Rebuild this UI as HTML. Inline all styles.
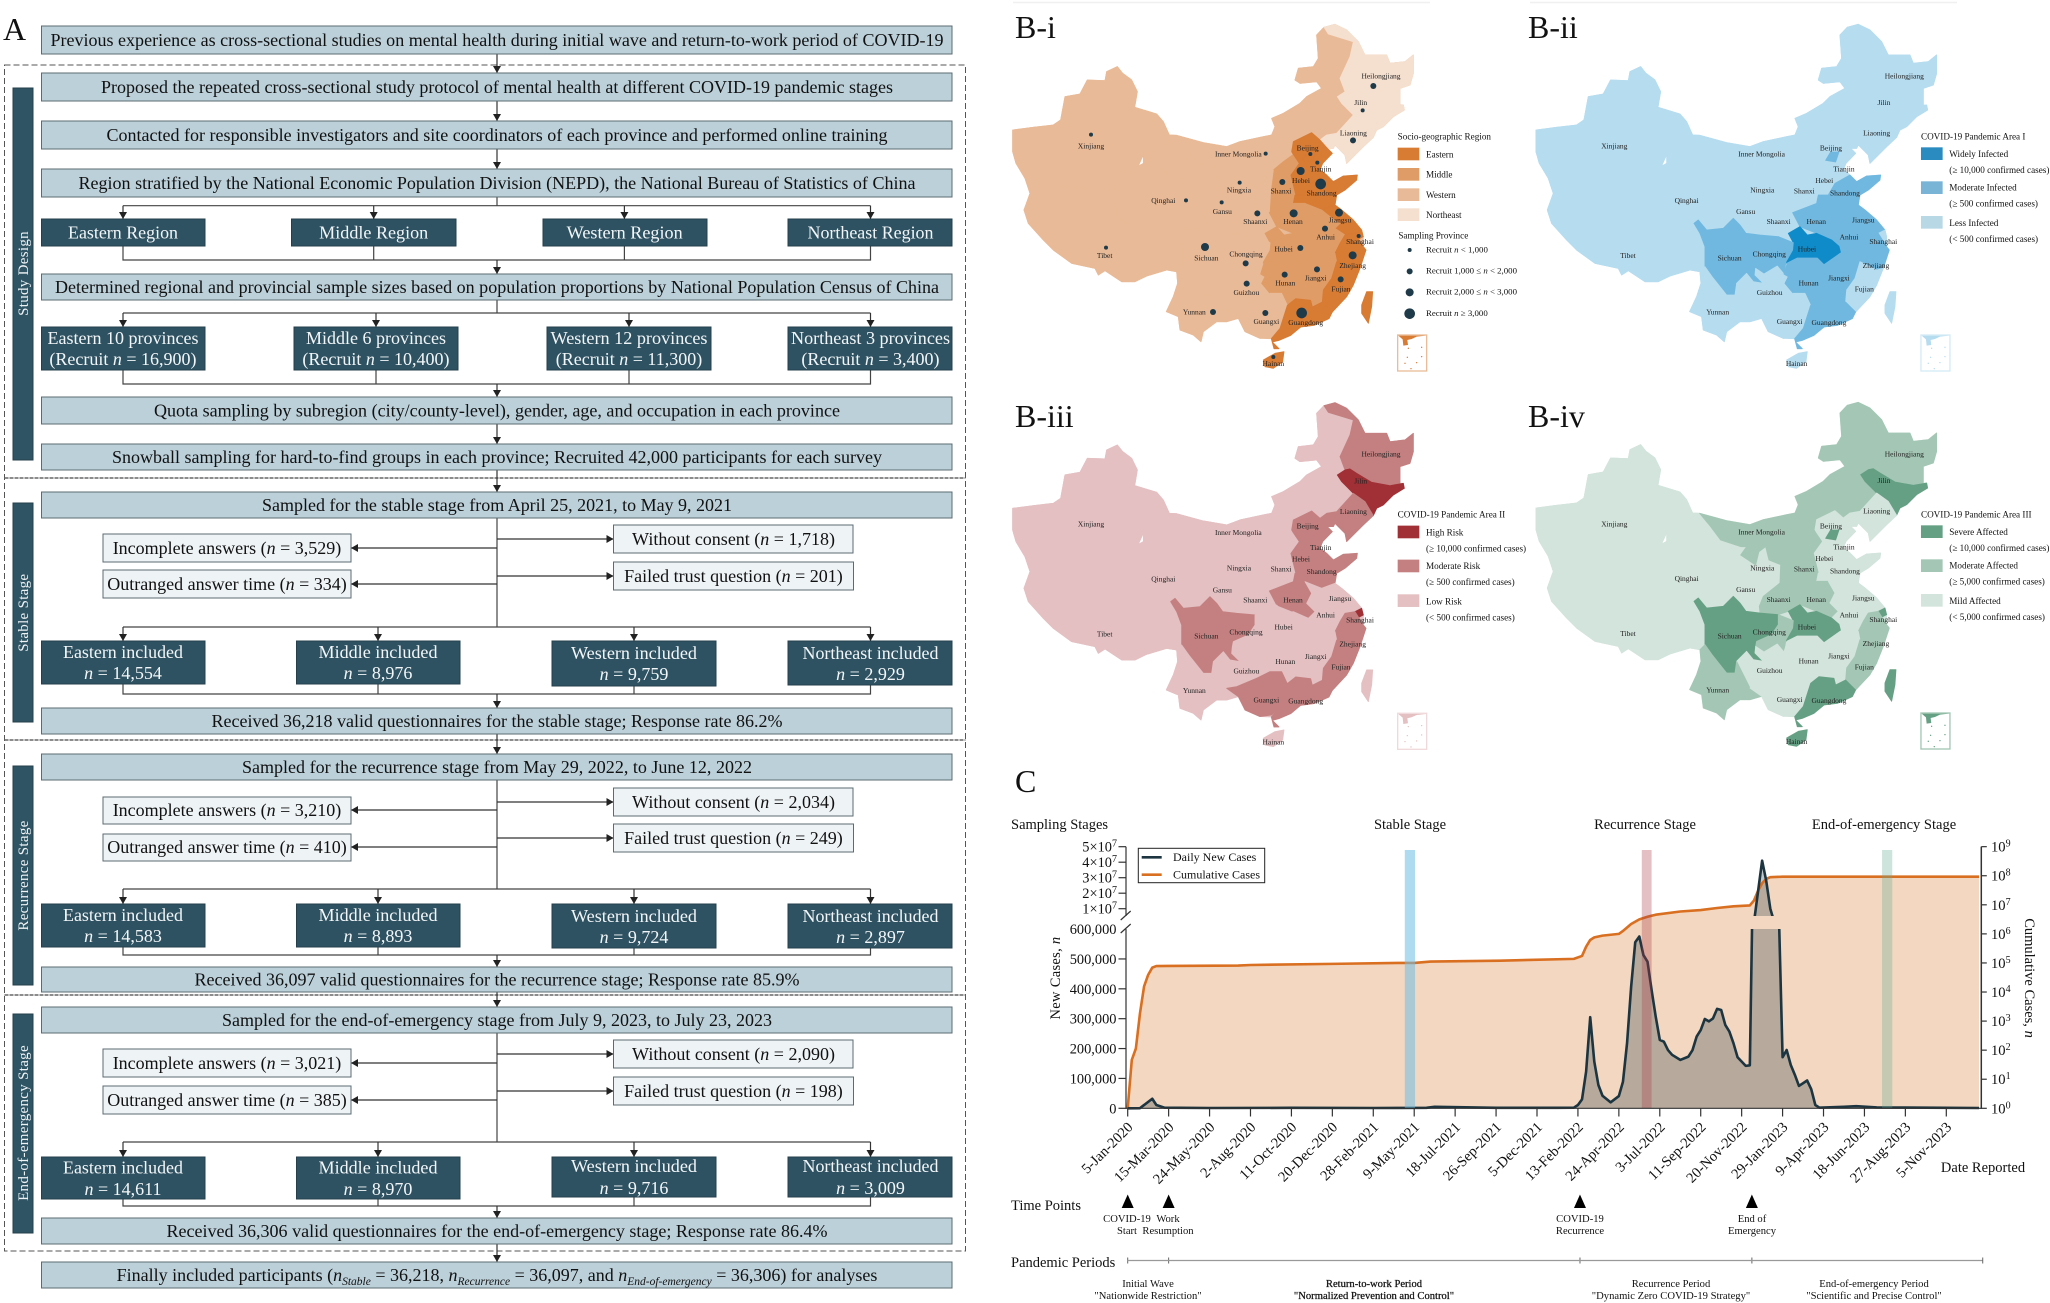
<!DOCTYPE html>
<html lang="en">
<head>
<meta charset="utf-8">
<title>Study flow, pandemic area maps and case timeline</title>
<style>
html,body{margin:0;padding:0;background:#fff;width:2050px;height:1303px;overflow:hidden}
svg{display:block}
text{font-family:"Liberation Serif","Noto Serif CJK SC",serif}
.lb{fill:#bcd0da;stroke:#5c6b73;stroke-width:1}
.db{fill:#2f5262;stroke:#24404d;stroke-width:1}
.eb{fill:#eef3f6;stroke:#5c6b73;stroke-width:1}
.sb{fill:#2f5464;stroke:#24404d;stroke-width:1}
.t{font-size:18px;fill:#111;text-anchor:middle}
.w{font-size:18px;fill:#f2f6f8;text-anchor:middle}
.v{font-size:15px;fill:#eef3f6;text-anchor:middle;letter-spacing:.3px}
.c{fill:none;stroke:#444;stroke-width:1.2}
.a{fill:none;stroke:#333;stroke-width:1.2;marker-end:url(#ah)}
.p{font-size:32px;fill:#111}
.lab{font-size:14.5px;fill:#111}
.sm{font-size:10.6px;fill:#111;text-anchor:middle}
.smb{stroke:#111;stroke-width:.25}
</style>
</head>
<body>
<svg id="fig" xmlns="http://www.w3.org/2000/svg" width="2050" height="1303" viewBox="0 0 2050 1303">
<defs>
<marker id="ah" markerWidth="7" markerHeight="8" refX="7" refY="4" orient="auto" markerUnits="userSpaceOnUse"><path d="M0,0L7,4L0,8z" fill="#222"/></marker>
<clipPath id="clip-lower"><rect x="1120" y="929" width="870" height="182"/></clipPath>
<clipPath id="clip-upper"><rect x="1120" y="840" width="870" height="76"/></clipPath>
</defs>

<path d="M1013,2.5H1430M1530,2.5H1957" stroke="#f0f0f0" stroke-width="1.5" fill="none"/>

<!-- PANEL A -->
<g id="panel-a">
<text class="p" x="3" y="40">A</text>

<rect x="4.5" y="65" width="961" height="1186" fill="none" stroke="#555" stroke-width="1" stroke-dasharray="6 3"/>
<path d="M4.5,478H965.5M4.5,740H965.5M4.5,995H965.5" fill="none" stroke="#666" stroke-width="1.5" stroke-dasharray="4 1"/>

<g>
<path class="a" d="M497,54V73"/><path class="a" d="M497,101V121"/><path class="a" d="M497,149V169"/>
<path class="c" d="M497,197V205.7M123,205.7H870.5"/>
<path class="a" d="M123,205.7V219"/><path class="a" d="M373.7,205.7V219"/><path class="a" d="M624.4,205.7V219"/><path class="a" d="M870.5,205.7V219"/>
<path class="c" d="M123,246V260H870.5V246M373.7,246V260M624.4,246V260"/><path class="a" d="M497,260V274"/>
<path class="c" d="M497,300V313M123,313H870.5"/>
<path class="a" d="M123,313V327"/><path class="a" d="M376,313V327"/><path class="a" d="M629,313V327"/><path class="a" d="M870.5,313V327"/>
<path class="c" d="M123,370V384H870.5V370M376,370V384M629,370V384"/><path class="a" d="M497,384V397"/>
<path class="a" d="M497,424V444"/><path class="a" d="M497,470V492"/>
<path class="c" d="M497,518V627M123,627H870.5"/>
<path class="a" d="M497,539H613.5"/><path class="a" d="M497,576H613.5"/><path class="a" d="M497,548H351"/><path class="a" d="M497,584H351"/>
<path class="a" d="M123,627V641"/><path class="a" d="M378,627V641"/><path class="a" d="M634,627V641"/><path class="a" d="M870.5,627V641"/>
<path class="c" d="M123,684V694H870.5V685M378,684V694M634,686V694"/><path class="a" d="M497,694V708"/>
<path class="a" d="M497,734V754"/>
<path class="c" d="M497,780V889M123,889H870.5"/>
<path class="a" d="M497,802H613.5"/><path class="a" d="M497,838H613.5"/><path class="a" d="M497,810H351"/><path class="a" d="M497,847H351"/>
<path class="a" d="M123,889V904"/><path class="a" d="M378,889V904"/><path class="a" d="M634,889V904"/><path class="a" d="M870.5,889V904"/>
<path class="c" d="M123,947V955H870.5V948M378,947V955M634,948V955"/><path class="a" d="M497,955V967"/>
<path class="a" d="M497,992V1007"/>
<path class="c" d="M497,1033V1142M123,1142H870.5"/>
<path class="a" d="M497,1054H613.5"/><path class="a" d="M497,1091H613.5"/><path class="a" d="M497,1063H351"/><path class="a" d="M497,1100H351"/>
<path class="a" d="M123,1142V1157"/><path class="a" d="M378,1142V1157"/><path class="a" d="M634,1142V1157"/><path class="a" d="M870.5,1142V1157"/>
<path class="c" d="M123,1199V1206H870.5V1197M378,1199V1206M634,1197V1206"/><path class="a" d="M497,1206V1218"/>
<path class="a" d="M497,1244V1262"/>
</g>

<g><rect class="lb" x="41.5" y="26" width="910.5" height="28"/><text class="t" x="497" y="46" textLength="893" lengthAdjust="spacingAndGlyphs">Previous experience as cross-sectional studies on mental health during initial wave and return-to-work period of COVID-19</text></g>
<g><rect class="lb" x="41.5" y="73" width="910.5" height="28"/><text class="t" x="497" y="93" textLength="792" lengthAdjust="spacingAndGlyphs">Proposed the repeated cross-sectional study protocol of mental health at different COVID-19 pandemic stages</text></g>
<g><rect class="lb" x="41.5" y="121" width="910.5" height="28"/><text class="t" x="497" y="141" textLength="781" lengthAdjust="spacingAndGlyphs">Contacted for responsible investigators and site coordinators of each province and performed online training</text></g>
<g><rect class="lb" x="41.5" y="169" width="910.5" height="28"/><text class="t" x="497" y="189" textLength="837" lengthAdjust="spacingAndGlyphs">Region stratified by the National Economic Population Division (NEPD), the National Bureau of Statistics of China</text></g>

<g><rect class="db" x="41.5" y="219" width="163.5" height="27"/><text class="w" x="123" y="238.5" textLength="110" lengthAdjust="spacingAndGlyphs">Eastern Region</text></g>
<g><rect class="db" x="291.5" y="219" width="164.5" height="27"/><text class="w" x="373.7" y="238.5" textLength="109" lengthAdjust="spacingAndGlyphs">Middle Region</text></g>
<g><rect class="db" x="543" y="219" width="164" height="27"/><text class="w" x="624.7" y="238.5" textLength="116" lengthAdjust="spacingAndGlyphs">Western Region</text></g>
<g><rect class="db" x="788" y="219" width="164" height="27"/><text class="w" x="870.5" y="238.5" textLength="126" lengthAdjust="spacingAndGlyphs">Northeast Region</text></g>

<g><rect class="lb" x="41.5" y="274" width="910.5" height="26"/><text class="t" x="497" y="293" textLength="884" lengthAdjust="spacingAndGlyphs">Determined regional and provincial sample sizes based on population proportions by National Population Census of China</text></g>

<g><rect class="db" x="41.5" y="327" width="163.5" height="43"/><text class="w" x="123" y="344" textLength="151" lengthAdjust="spacingAndGlyphs">Eastern 10 provinces</text><text class="w" x="123" y="365">(Recruit <tspan font-style="italic">n</tspan> = 16,900)</text></g>
<g><rect class="db" x="294" y="327" width="164" height="43"/><text class="w" x="376" y="344" textLength="140" lengthAdjust="spacingAndGlyphs">Middle 6 provinces</text><text class="w" x="376" y="365">(Recruit <tspan font-style="italic">n</tspan> = 10,400)</text></g>
<g><rect class="db" x="547" y="327" width="164" height="43"/><text class="w" x="629" y="344" textLength="157" lengthAdjust="spacingAndGlyphs">Western 12 provinces</text><text class="w" x="629" y="365">(Recruit <tspan font-style="italic">n</tspan> = 11,300)</text></g>
<g><rect class="db" x="788" y="327" width="164" height="43"/><text class="w" x="870.5" y="344" textLength="159" lengthAdjust="spacingAndGlyphs">Northeast 3 provinces</text><text class="w" x="870.5" y="365">(Recruit <tspan font-style="italic">n</tspan> = 3,400)</text></g>

<g><rect class="lb" x="41.5" y="397" width="910.5" height="27"/><text class="t" x="497" y="416.5" textLength="686" lengthAdjust="spacingAndGlyphs">Quota sampling by subregion (city/county-level), gender, age, and occupation in each province</text></g>
<g><rect class="lb" x="41.5" y="444" width="910.5" height="26"/><text class="t" x="497" y="463" textLength="770" lengthAdjust="spacingAndGlyphs">Snowball sampling for hard-to-find groups in each province; Recruited 42,000 participants for each survey</text></g>

<g><rect class="sb" x="13" y="88" width="20" height="372"/><text class="v" transform="translate(28 273.5) rotate(-90)">Study Design</text></g>

<!-- stable stage -->
<g><rect class="sb" x="13" y="503" width="20" height="219"/><text class="v" transform="translate(28 612.7) rotate(-90)">Stable Stage</text></g>
<g><rect class="lb" x="41.5" y="492" width="910.5" height="26"/><text class="t" x="497" y="511" textLength="470" lengthAdjust="spacingAndGlyphs">Sampled for the stable stage from April 25, 2021, to May 9, 2021</text></g>
<g><rect class="eb" x="103" y="534" width="248" height="28"/><text class="t" x="227" y="554">Incomplete answers (<tspan font-style="italic">n</tspan> = 3,529)</text></g>
<g><rect class="eb" x="103" y="570" width="248" height="28"/><text class="t" x="227" y="590">Outranged answer time (<tspan font-style="italic">n</tspan> = 334)</text></g>
<g><rect class="eb" x="613.5" y="525" width="239.5" height="28"/><text class="t" x="733.5" y="545">Without consent (<tspan font-style="italic">n</tspan> = 1,718)</text></g>
<g><rect class="eb" x="613.5" y="562" width="240" height="28"/><text class="t" x="733.5" y="582">Failed trust question (<tspan font-style="italic">n</tspan> = 201)</text></g>
<g><rect class="db" x="41.5" y="641" width="163.5" height="43"/><text class="w" x="123" y="658" textLength="120" lengthAdjust="spacingAndGlyphs">Eastern included</text><text class="w" x="123" y="679"><tspan font-style="italic">n</tspan> = 14,554</text></g>
<g><rect class="db" x="296.5" y="641" width="163.5" height="43"/><text class="w" x="378" y="658" textLength="119" lengthAdjust="spacingAndGlyphs">Middle included</text><text class="w" x="378" y="679"><tspan font-style="italic">n</tspan> = 8,976</text></g>
<g><rect class="db" x="552" y="641" width="164" height="45"/><text class="w" x="634" y="659" textLength="126" lengthAdjust="spacingAndGlyphs">Western included</text><text class="w" x="634" y="680"><tspan font-style="italic">n</tspan> = 9,759</text></g>
<g><rect class="db" x="788" y="641" width="164" height="44"/><text class="w" x="870.5" y="659" textLength="136" lengthAdjust="spacingAndGlyphs">Northeast included</text><text class="w" x="870.5" y="680"><tspan font-style="italic">n</tspan> = 2,929</text></g>
<g><rect class="lb" x="41.5" y="708" width="910.5" height="26"/><text class="t" x="497" y="727" textLength="571" lengthAdjust="spacingAndGlyphs">Received 36,218 valid questionnaires for the stable stage; Response rate 86.2%</text></g>

<!-- recurrence stage -->
<g><rect class="sb" x="13" y="766" width="20" height="219"/><text class="v" transform="translate(28 875.5) rotate(-90)">Recurrence Stage</text></g>
<g><rect class="lb" x="41.5" y="754" width="910.5" height="26"/><text class="t" x="497" y="773" textLength="510" lengthAdjust="spacingAndGlyphs">Sampled for the recurrence stage from May 29, 2022, to June 12, 2022</text></g>
<g><rect class="eb" x="103" y="797" width="248" height="27"/><text class="t" x="227" y="816">Incomplete answers (<tspan font-style="italic">n</tspan> = 3,210)</text></g>
<g><rect class="eb" x="103" y="834" width="248" height="27"/><text class="t" x="227" y="853">Outranged answer time (<tspan font-style="italic">n</tspan> = 410)</text></g>
<g><rect class="eb" x="613.5" y="788" width="239.5" height="28"/><text class="t" x="733.5" y="808">Without consent (<tspan font-style="italic">n</tspan> = 2,034)</text></g>
<g><rect class="eb" x="613.5" y="824" width="240" height="28"/><text class="t" x="733.5" y="844">Failed trust question (<tspan font-style="italic">n</tspan> = 249)</text></g>
<g><rect class="db" x="41.5" y="904" width="163.5" height="43"/><text class="w" x="123" y="921" textLength="120" lengthAdjust="spacingAndGlyphs">Eastern included</text><text class="w" x="123" y="942"><tspan font-style="italic">n</tspan> = 14,583</text></g>
<g><rect class="db" x="296.5" y="904" width="163.5" height="43"/><text class="w" x="378" y="921" textLength="119" lengthAdjust="spacingAndGlyphs">Middle included</text><text class="w" x="378" y="942"><tspan font-style="italic">n</tspan> = 8,893</text></g>
<g><rect class="db" x="552" y="904" width="164" height="44"/><text class="w" x="634" y="922" textLength="126" lengthAdjust="spacingAndGlyphs">Western included</text><text class="w" x="634" y="943"><tspan font-style="italic">n</tspan> = 9,724</text></g>
<g><rect class="db" x="788" y="904" width="164" height="44"/><text class="w" x="870.5" y="922" textLength="136" lengthAdjust="spacingAndGlyphs">Northeast included</text><text class="w" x="870.5" y="943"><tspan font-style="italic">n</tspan> = 2,897</text></g>
<g><rect class="lb" x="41.5" y="967" width="910.5" height="25"/><text class="t" x="497" y="985.5" textLength="605" lengthAdjust="spacingAndGlyphs">Received 36,097 valid questionnaires for the recurrence stage; Response rate 85.9%</text></g>

<!-- end-of-emergency stage -->
<g><rect class="sb" x="13" y="1014" width="20" height="219"/><text class="v" transform="translate(28 1123) rotate(-90)">End-of-emergency Stage</text></g>
<g><rect class="lb" x="41.5" y="1007" width="910.5" height="26"/><text class="t" x="497" y="1026" textLength="550" lengthAdjust="spacingAndGlyphs">Sampled for the end-of-emergency stage from July 9, 2023, to July 23, 2023</text></g>
<g><rect class="eb" x="103" y="1049" width="248" height="28"/><text class="t" x="227" y="1069">Incomplete answers (<tspan font-style="italic">n</tspan> = 3,021)</text></g>
<g><rect class="eb" x="103" y="1086" width="248" height="28"/><text class="t" x="227" y="1106">Outranged answer time (<tspan font-style="italic">n</tspan> = 385)</text></g>
<g><rect class="eb" x="613.5" y="1040" width="239.5" height="28"/><text class="t" x="733.5" y="1060">Without consent (<tspan font-style="italic">n</tspan> = 2,090)</text></g>
<g><rect class="eb" x="613.5" y="1077" width="240" height="28"/><text class="t" x="733.5" y="1097">Failed trust question (<tspan font-style="italic">n</tspan> = 198)</text></g>
<g><rect class="db" x="41.5" y="1157" width="163.5" height="42"/><text class="w" x="123" y="1173.5" textLength="120" lengthAdjust="spacingAndGlyphs">Eastern included</text><text class="w" x="123" y="1195"><tspan font-style="italic">n</tspan> = 14,611</text></g>
<g><rect class="db" x="296.5" y="1157" width="163.5" height="42"/><text class="w" x="378" y="1173.5" textLength="119" lengthAdjust="spacingAndGlyphs">Middle included</text><text class="w" x="378" y="1195"><tspan font-style="italic">n</tspan> = 8,970</text></g>
<g><rect class="db" x="552" y="1157" width="164" height="40"/><text class="w" x="634" y="1172" textLength="126" lengthAdjust="spacingAndGlyphs">Western included</text><text class="w" x="634" y="1194"><tspan font-style="italic">n</tspan> = 9,716</text></g>
<g><rect class="db" x="788" y="1157" width="164" height="40"/><text class="w" x="870.5" y="1172" textLength="136" lengthAdjust="spacingAndGlyphs">Northeast included</text><text class="w" x="870.5" y="1194"><tspan font-style="italic">n</tspan> = 3,009</text></g>
<g><rect class="lb" x="41.5" y="1218" width="910.5" height="26"/><text class="t" x="497" y="1237" textLength="661" lengthAdjust="spacingAndGlyphs">Received 36,306 valid questionnaires for the end-of-emergency stage; Response rate 86.4%</text></g>

<g><rect class="lb" x="41.5" y="1262" width="910.5" height="26"/><text class="t" x="497" y="1281">Finally included participants (<tspan font-style="italic">n</tspan><tspan font-style="italic" font-size="11.5" dy="4">Stable</tspan><tspan dy="-4"> = 36,218, </tspan><tspan font-style="italic">n</tspan><tspan font-style="italic" font-size="11.5" dy="4">Recurrence</tspan><tspan dy="-4"> = 36,097, and </tspan><tspan font-style="italic">n</tspan><tspan font-style="italic" font-size="11.5" dy="4">End-of-emergency</tspan><tspan dy="-4"> = 36,306) for analyses</tspan></text></g>
</g>

<!-- PANEL LABELS B, C -->
<text class="p" x="1015" y="38">B-i</text>
<text class="p" x="1528" y="38">B-ii</text>
<text class="p" x="1015" y="427">B-iii</text>
<text class="p" x="1528" y="427">B-iv</text>
<text class="p" x="1015" y="792">C</text>

<g id="maps"></g>

<!-- PANEL C static labels -->
<g>
<text class="lab" x="1011" y="829">Sampling Stages</text>
<text class="lab" x="1410" y="829" text-anchor="middle">Stable Stage</text>
<text class="lab" x="1645" y="829" text-anchor="middle">Recurrence Stage</text>
<text class="lab" x="1884" y="829" text-anchor="middle">End-of-emergency Stage</text>
<text class="lab" transform="translate(1060 978) rotate(-90)" text-anchor="middle" letter-spacing=".3">New Cases, <tspan font-style="italic">n</tspan></text>
<text class="lab" transform="translate(2025 978) rotate(90)" text-anchor="middle">Cumulative Cases, <tspan font-style="italic">n</tspan></text>
<text class="lab" x="1983" y="1172" text-anchor="middle">Date Reported</text>
<text class="lab" x="1011" y="1210">Time Points</text>
<text class="lab" x="1011" y="1267">Pandemic Periods</text>
<text class="sm" x="1127" y="1222">COVID-19</text>
<text class="sm" x="1127" y="1234">Start</text>
<text class="sm" x="1168" y="1222">Work</text>
<text class="sm" x="1168" y="1234">Resumption</text>
<text class="sm" x="1580" y="1222">COVID-19</text>
<text class="sm" x="1580" y="1234">Recurrence</text>
<text class="sm" x="1752" y="1222">End of</text>
<text class="sm" x="1752" y="1234">Emergency</text>
<text class="sm" x="1148" y="1287">Initial Wave</text>
<text class="sm" x="1148" y="1299">"Nationwide Restriction"</text>
<text class="sm smb" x="1374" y="1287">Return-to-work Period</text>
<text class="sm smb" x="1374" y="1299">"Normalized Prevention and Control"</text>
<text class="sm" x="1671" y="1287">Recurrence Period</text>
<text class="sm" x="1671" y="1299">"Dynamic Zero COVID-19 Strategy"</text>
<text class="sm" x="1874" y="1287">End-of-emergency Period</text>
<text class="sm" x="1874" y="1299">"Scientific and Precise Control"</text>
</g>

<g id="chart"></g>

<g>
<rect x="1138.3" y="848.3" width="126.4" height="34.4" fill="#fff" stroke="#222" stroke-width="1"/>
<line x1="1141.7" y1="857.3" x2="1161.7" y2="857.3" stroke="#1c3540" stroke-width="2.6"/>
<line x1="1141.7" y1="874.7" x2="1161.7" y2="874.7" stroke="#d96f20" stroke-width="2.6"/>
<text x="1173" y="860.8" font-size="12" fill="#111">Daily New Cases</text>
<text x="1173" y="878.4" font-size="12" fill="#111">Cumulative Cases</text>
</g>
</svg>

<script>
// ---------- MAP DATA ----------
const provinceNames = ['Xinjiang','Tibet','Qinghai','Gansu','Ningxia','Inner Mongolia','Heilongjiang','Jilin','Liaoning','Hebei','Beijing','Tianjin','Shanxi','Shaanxi','Shandong','Henan','Jiangsu','Anhui','Shanghai','Zhejiang','Hubei','Sichuan','Chongqing','Guizhou','Hunan','Jiangxi','Fujian','Yunnan','Guangxi','Guangdong','Hainan','Taiwan'];
const classesSocioRegion = [2,2,2,2,2,2,3,3,3,0,0,0,1,2,0,1,0,1,0,0,1,2,2,2,1,1,0,2,2,0,0,0];
const classesAreaOne     = [2,2,2,2,2,2,2,2,2,2,1,2,2,2,1,1,1,1,2,1,0,1,1,2,1,1,2,2,2,1,2,2];
const classesAreaTwo     = [2,2,2,2,2,2,1,0,1,1,1,1,2,2,1,1,2,2,0,1,2,1,2,2,2,2,1,2,1,1,2,2];
const classesAreaThree   = [2,2,2,2,2,1,1,0,2,2,0,2,1,1,2,1,2,2,0,1,0,0,1,2,2,2,1,1,2,0,0,0];
// Recruitment tier per province (0: <1,000 ... 3: >=3,000); Taiwan not sampled (-1)
const recruitTiers = [0,0,0,0,0,0,1,0,1,2,0,0,1,1,3,2,2,1,0,2,1,2,1,1,1,1,1,1,1,3,0,-1];

// outer silhouette behind the provinces, closes hairline seams between them
const mainlandOutline = "38,330 100,322 160,315 182,300 195,230 240,222 262,180 315,182 320,155 352,140 368,160 395,180 412,215 404,262 470,282 490,305 508,345 529,346 610,368 680,380 720,365 790,350 815,345 825,320 815,295 850,280 900,250 920,230 965,205 950,185 900,190 885,180 895,145 940,140 955,115 950,45 972,22 1005,13 1040,30 1075,65 1095,105 1160,105 1170,130 1215,125 1240,105 1240,160 1230,195 1200,205 1200,255 1210,255 1213,270 1180,290 1150,320 1130,330 1120,352 1090,380 1040,430 1035,405 1005,375 1000,385 982,385 997,400 968,430 960,450 980,465 1000,485 1030,468 1072,465 1070,480 1035,510 1010,525 1005,555 1025,570 1060,600 1085,630 1090,650 1090,680 1098,690 1080,745 1060,795 1040,830 997,876 987,896 942,916 902,921 872,946 837,961 817,966 837,986 822,986 814,956 780,955 735,935 715,895 680,905 650,905 610,935 603,965 580,945 540,930 535,890 499,875 520,830 533,790 530,755 500,750 440,768 405,785 365,785 315,752 295,765 285,745 215,730 160,690 130,660 85,610 72,570 90,520 75,475 48,430 38,395";

// province outlines (geography, not data values), in the map's local coordinate system
const provinceShapes = [
"38,330 100,322 160,315 182,300 195,230 240,222 262,180 315,182 320,155 352,140 368,160 395,180 412,215 404,262 470,282 490,305 508,345 505,370 430,405 415,438 380,450 340,515 270,505 130,495 90,520 75,475 48,430 38,395",
"90,520 130,495 270,505 340,515 350,590 380,610 450,620 512,610 530,640 545,680 545,740 530,755 500,750 440,768 405,785 365,785 315,752 295,765 285,745 215,730 160,690 130,660 85,610 72,570",
"430,430 480,445 555,480 610,500 640,530 625,570 600,625 550,630 525,600 512,610 450,620 380,610 350,590 340,515 380,450 415,438",
"505,370 508,345 529,346 562,386 592,426 652,446 670,446 652,471 697,501 720,530 737,486 772,500 770,555 720,595 708,625 710,645 668,640 650,615 630,595 600,625 625,570 640,530 610,500 555,480 480,445 430,430 430,405",
"697,501 707,461 727,446 737,486 720,530",
"529,346 610,368 680,380 720,365 790,350 815,345 825,320 815,295 850,280 900,250 920,230 965,205 950,185 900,190 885,180 895,145 940,140 955,115 950,45 972,22 985,42 1060,65 1050,110 1020,175 1035,215 1012,230 1025,250 1060,285 1010,340 980,345 960,360 935,338 880,365 875,395 878,405 850,425 820,450 805,470 772,500 737,486 727,446 707,461 697,501 652,471 670,446 652,446 592,426 562,386",
"972,22 1005,13 1040,30 1075,65 1095,105 1160,105 1170,130 1215,125 1240,105 1240,160 1230,195 1200,205 1200,255 1170,260 1115,252 1070,225 1050,212 1035,215 1020,175 1050,110 1060,65 985,42",
"1012,230 1035,215 1050,212 1070,225 1115,252 1170,262 1210,255 1213,270 1180,290 1150,320 1130,330 1120,352 1095,310 1060,285 1025,250",
"960,360 980,345 1010,340 1060,285 1095,310 1120,352 1090,380 1040,430 1035,405 1005,375 1000,385 982,385",
"880,365 935,338 960,360 982,385 997,400 968,430 960,450 980,465 935,490 915,525 885,525 870,465 895,430 875,395",
"907,421 922,396 947,396 937,426",
"945,420 965,430 960,450 945,445",
"878,405 895,430 870,465 885,525 880,550 808,578 812,510 820,450 850,425",
"772,500 805,470 820,450 812,510 808,578 830,620 795,640 765,650 710,645 708,625 720,595 770,555",
"885,525 915,525 935,490 980,465 1000,485 1030,468 1072,465 1070,480 1035,510 1010,525 1005,555 965,570 915,550 880,550",
"808,578 880,550 915,550 935,585 920,615 945,640 925,660 880,640 830,620",
"965,570 1005,555 1025,570 1060,600 1085,630 1065,640 1035,645 1005,625 1020,610 1000,598",
"915,550 965,570 1000,598 1020,610 1005,625 1035,645 1020,670 1005,700 975,690 952,699 947,679 925,660 945,640 920,615 935,585",
"1065,640 1085,630 1090,650 1070,660",
"1005,700 1020,670 1035,645 1065,640 1090,680 1098,690 1080,745 1060,750 1010,725",
"795,640 830,620 852,645 880,640 925,660 947,679 952,699 902,734 882,714 822,714 792,729 774,729 808,690 810,668",
"512,610 525,600 550,630 600,625 630,595 650,615 668,640 710,645 765,650 765,680 745,710 700,730 695,765 720,790 690,785 670,760 640,790 635,825 610,830 567,771 545,740 545,680 530,640",
"700,730 745,710 765,680 765,650 810,668 808,690 788,725 782,762 762,738 722,762 697,745",
"670,760 690,785 720,790 695,765 697,745 722,762 762,738 782,762 795,770 785,790 810,820 770,840 710,865 680,870 655,820 640,790",
"792,729 822,714 882,714 902,734 905,750 900,790 920,840 885,836 862,856 845,820 810,820 785,790 795,770 782,762",
"902,734 952,699 975,690 1005,700 1010,725 995,775 970,810 965,846 937,861 932,841 920,840 900,790 905,750",
"1010,725 1060,750 1080,745 1060,795 1040,830 997,876 967,846 970,810 995,775",
"530,755 545,740 567,771 610,825 635,825 640,790 655,820 680,870 715,895 680,905 650,905 610,935 603,965 580,945 540,930 535,890 499,875 520,830 533,790",
"680,870 710,865 770,840 810,820 845,820 862,856 840,925 815,950 780,955 735,935 715,895",
"862,856 887,836 932,841 937,861 967,846 997,876 987,896 942,916 902,921 872,946 837,961 817,966 837,986 822,986 814,956 840,925",
"790,1020 825,1000 852,995 848,1025 820,1045 795,1040",
"1100,815 1118,815 1115,860 1105,910 1085,880 1085,855"];
const labelAnchorX = [273,314,490,667,717,715,1143,1082,1060,903,923,962,843,766,965,879,1020,977,1080,1058,851,619,738,739,856,947,1023,583,799,917,820,0];
const labelAnchorY = [385,714,549,582,517,410,175,255,347,489,391,455,520,612,527,612,608,658,672,744,694,721,709,825,797,782,814,884,912,915,1038,0];
const dotAnchorX = [273,318,558,665,719,797,1120,1088,1059,902,931,952,847,772,962,881,1017,975,1076,1058,901,615,737,740,854,951,1022,639,796,905,820,0];
const dotAnchorY = [344,683,541,547,488,401,198,271,361,453,402,428,486,580,492,580,578,626,648,706,684,681,730,791,764,748,778,876,879,879,1011,0];
const tierRadii = [6,9,12,16];

const legendTitlesSocio = ['Socio-geographic Region','Eastern','Middle','Western','Northeast'];
const samplingTitle = 'Sampling Province';
const samplingLabels = ['Recruit n < 1,000','Recruit 1,000 ≤ n < 2,000','Recruit 2,000 ≤ n < 3,000','Recruit n ≥ 3,000'];

const paletteSocio = ['#d87b33','#e09c66','#e9ba97','#f5dfce'];
const paletteAreaOne = ['#108bc9','#70b8e0','#b6dcef'];
const paletteAreaTwo = ['#a03036','#c48080','#e4c0c2'];
const paletteAreaThree = ['#66a084','#a4c7b5','#d3e4dc'];

const legendAreaOne = ['COVID-19 Pandemic Area I','Widely Infected','(≥ 10,000 confirmed cases)','Moderate Infected','(≥ 500 confirmed cases)','Less Infected','(< 500 confirmed cases)'];
const legendAreaTwo = ['COVID-19 Pandemic Area II','High Risk','(≥ 10,000 confirmed cases)','Moderate Risk','(≥ 500 confirmed cases)','Low Risk','(< 500 confirmed cases)'];
const legendAreaThree = ['COVID-19 Pandemic Area III','Severe Affected','(≥ 10,000 confirmed cases)','Moderate Affected','(≥ 5,000 confirmed cases)','Mild Affected','(< 5,000 confirmed cases)'];

const NS = 'http://www.w3.org/2000/svg';
function svgEl(tag, attrs, parent){
  const el = document.createElementNS(NS, tag);
  for (const k in attrs) el.setAttribute(k, attrs[k]);
  parent.appendChild(el);
  return el;
}

function drawInset(g, fillColor, frameColor){
  const frame = svgEl('rect', {x:1193,y:945,width:87,height:108,fill:'#fff',stroke:frameColor,'stroke-width':4}, g);
  
  
  const top = svgEl('polygon', {points:'1195,947 1278,947 1250,950 1235,957 1222,960 1224,975 1210,977 1208,958', fill:fillColor}, g);
  
  
  const specks = [[1225,985],[1265,982],[1222,1012],[1265,1010],[1250,1028],[1215,1030],[1233,1046]];
  specks.forEach(function(s){
    const d = svgEl('circle', {cx:s[0],cy:s[1],r:2,fill:fillColor}, g);
    
    
  });
}

function drawMap(name, dx, dy, classes, palette, frameColor, insetColor){
  const g = svgEl('g', {transform:'translate(' + (1000+dx) + ' ' + (20+dy) + ') scale(0.33333)'}, document.getElementById('maps'));
  
  
  const backing = svgEl('polygon', {points:mainlandOutline, fill:palette[2], stroke:palette[2], 'stroke-width':2.5, 'stroke-linejoin':'round'}, g);
  
  
  const gap = svgEl('polygon', {points:'430,405 415,438 430,430', fill:'#fff'}, g);
  
  
  provinceNames.forEach(function(p, i){
    const c = palette[classes[i]];
    const poly = svgEl('polygon', {points:provinceShapes[i], fill:c, stroke:c, 'stroke-width':2.5, 'stroke-linejoin':'round'}, g);
    
    
  });
  drawInset(g, insetColor, frameColor);
  return g;
}

function drawLabels(g){
  provinceNames.forEach(function(p, i){
    if (p === 'Taiwan') return;
    const t = svgEl('text', {x:labelAnchorX[i], y:labelAnchorY[i], 'font-size':22.5, 'text-anchor':'middle', fill:'#222'}, g);
    t.textContent = p;
    
    
  });
}

function drawAreaLegend(g, lines, swatches){
  const title = svgEl('text', {x:1193, y:358, 'font-size':27.5, fill:'#111'}, g);
  title.textContent = lines[0];
  
  
  const swatchY = [382,484,588];
  const nameY = [411,512,618];
  const noteY = [459,560,666];
  swatches.forEach(function(col, i){
    const r = svgEl('rect', {x:1193, y:swatchY[i], width:65, height:38, fill:col}, g);
    
    
    const a = svgEl('text', {x:1278, y:nameY[i], 'font-size':27.5, fill:'#111'}, g);
    a.textContent = lines[1 + i*2];
    
    
    const b = svgEl('text', {x:1278, y:noteY[i], 'font-size':27.5, fill:'#111'}, g);
    b.textContent = lines[2 + i*2];
    
    
  });
}

// B-i
const mapOne = drawMap('b-i', 0, 0, classesSocioRegion, paletteSocio, '#eabd9a', '#d87b33');
drawLabels(mapOne);
provinceNames.forEach(function(p, i){
  if (recruitTiers[i] < 0) return;
  const b = svgEl('circle', {cx:dotAnchorX[i], cy:dotAnchorY[i], r:tierRadii[recruitTiers[i]], fill:'#1f3a48'}, mapOne);
  
  
});
(function(){
  const t = svgEl('text', {x:1193, y:358, 'font-size':27.5, fill:'#111'}, mapOne);
  t.textContent = legendTitlesSocio[0];
  
  
  const swY = [383,444,505,565];
  paletteSocio.forEach(function(col, i){
    const r = svgEl('rect', {x:1193, y:swY[i], width:65, height:38, fill:col}, mapOne);
    
    
    const l = svgEl('text', {x:1278, y:swY[i]+29, 'font-size':27.5, fill:'#111'}, mapOne);
    l.textContent = legendTitlesSocio[i+1];
    
    
  });
  const s = svgEl('text', {x:1195, y:656, 'font-size':27.5, fill:'#111'}, mapOne);
  s.textContent = samplingTitle;
  
  
  const rowY = [690,754,817,881];
  samplingLabels.forEach(function(txt, i){
    const c = svgEl('circle', {cx:1229, cy:rowY[i], r:tierRadii[i], fill:'#1f3a48'}, mapOne);
    
    
    const l = svgEl('text', {x:1278, y:rowY[i]+7, 'font-size':26.5, fill:'#111'}, mapOne);
    
    
    txt.split(' ').forEach(function(word, wi){
      const span = svgEl('tspan', word === 'n' ? {'font-style':'italic'} : {}, l);
      span.textContent = (wi ? ' ' : '') + word;
    });
  });
})();

// B-ii
const mapTwo = drawMap('b-ii', 523.3, 0, classesAreaOne, paletteAreaOne, '#d5ebf6', '#b6dcef');
drawLabels(mapTwo);
drawAreaLegend(mapTwo, legendAreaOne, ['#2a8bc0','#79b3d5','#b8d8e6']);
// B-iii
const mapThree = drawMap('b-iii', 0, 378.3, classesAreaTwo, paletteAreaTwo, '#f0d9da', '#e4c0c2');
drawLabels(mapThree);
drawAreaLegend(mapThree, legendAreaTwo, paletteAreaTwo);
// B-iv
const mapFour = drawMap('b-iv', 523.3, 378, classesAreaThree, paletteAreaThree, '#a4c7b5', '#66a084');
drawLabels(mapFour);
drawAreaLegend(mapFour, legendAreaThree, paletteAreaThree);

// ---------- CHART DATA ----------
const xTickLabels = ['5-Jan-2020','15-Mar-2020','24-May-2020','2-Aug-2020','11-Oct-2020','20-Dec-2020','28-Feb-2021','9-May-2021','18-Jul-2021','26-Sep-2021','5-Dec-2021','13-Feb-2022','24-Apr-2022','3-Jul-2022','11-Sep-2022','20-Nov-2022','29-Jan-2023','9-Apr-2023','18-Jun-2023','27-Aug-2023','5-Nov-2023'];
const xTickWeeks = [0,10,20,30,40,50,60,70,80,90,100,110,120,130,140,150,160,170,180,190,200];
const lowerTicks = [0,100000,200000,300000,400000,500000,600000];
const lowerTickLabels = ['0','100,000','200,000','300,000','400,000','500,000','600,000'];
const upperTicks = [10000000,20000000,30000000,40000000,50000000];
const upperTickLabels = ['1×10','2×10','3×10','4×10','5×10'];
const logTicks = [0,1,2,3,4,5,6,7,8,9];

const dailyWeeks = [0,3,6,7,9,20,40,60,73,75,90,105,109,110,111,112,113,114,115,116,118,120,121,122,123,124,125,126,127,128,129,130,131,132,133,135,137,138,139,140,141,142,143,144,145,146,147,148,149,151,152,153,154,155,156,157,158,159,160,161,162,163,164,166,167,168,169,175,178,183,195,208];
const dailyValues = [0,500,32000,11000,2000,1000,1500,1000,1500,5000,1500,1500,2000,11000,30000,123000,305000,156000,78000,42000,20000,41000,89000,218000,407000,556000,575000,513000,491000,396000,307000,229000,223000,195000,179000,162000,173000,195000,240000,262000,299000,291000,301000,333000,329000,279000,257000,218000,171000,142000,144000,1000000,21000000,41000000,28000000,10000000,1000000,700000,171000,195000,145000,112000,75000,93000,64000,11000,2000,5000,7000,3000,2000,1000];
const cumulativeWeeks = [0,1,2,3,4,5,6,7,10,27,30,50,66,70,74,91,109,111,112,113,114,116,120,121,123,125,127,129,135,140,144,148,152,153,154,155,156,157,160,208];
const cumulativeValues = [1,46,115,1860,15500,39000,69000,78000,79000,81000,85000,93000,100000,100000,112000,120000,138000,174000,363000,617000,759000,871000,1000000,1260000,2190000,3160000,3890000,4570000,5890000,6610000,7760000,8910000,9550000,14000000,30000000,55000000,78000000,89000000,93000000,93000000];

const stageNames = ['stable','recurrence','end-of-emergency'];
const stageStartWeeks = [67.7,125.6,184.3];
const stageEndWeeks = [70.2,128,186.8];
const stageColors = ['rgba(112,190,228,.56)','rgba(170,60,70,.32)','rgba(100,170,150,.32)'];
const timePointNames = ['covid-start','work-resumption','covid-recurrence','end-of-emergency'];
const timePointWeeks = [0,10,110.5,152.5];
const periodEndWeek = 208.9;

// ---------- AXIS FUNCTIONS ----------
function xScale(week){ return 1127.7 + week * 4.093; }
function yLower(v){ return 1108.3 - v / 100000 * 29.87; }
function yUpper(v){ return 908.7 - (v - 10000000) / 10000000 * 15.5; }
function yLog(v){ return 1108.3 - Math.log10(v) * 29.07; }

function linePath(weeks, values, yFn){
  return weeks.map(function(w, i){ return (i ? 'L' : 'M') + xScale(w).toFixed(2) + ',' + Math.max(-5000, yFn(values[i])).toFixed(2); }).join('');
}

const chart = document.getElementById('chart');

// cumulative fill
const cumArea = svgEl('path', {d: linePath(cumulativeWeeks, cumulativeValues, yLog) + 'L' + xScale(208) + ',1108.3L' + xScale(0) + ',1108.3Z', fill:'#f3d7c0'}, chart);



// daily fills
const dailyAreaLower = svgEl('path', {d: linePath(dailyWeeks, dailyValues, yLower) + 'L' + xScale(208) + ',1108.3L' + xScale(0) + ',1108.3Z', fill:'rgba(30,55,65,.28)', 'clip-path':'url(#clip-lower)'}, chart);


const dailyAreaUpper = svgEl('path', {d: linePath(dailyWeeks, dailyValues, yUpper) + 'L' + xScale(208) + ',930L' + xScale(0) + ',930Z', fill:'rgba(30,55,65,.28)', 'clip-path':'url(#clip-upper)'}, chart);



// series lines
const cumLine = svgEl('path', {d: linePath(cumulativeWeeks, cumulativeValues, yLog), fill:'none', stroke:'#d96f20', 'stroke-width':2.6, 'stroke-linejoin':'round'}, chart);


const dailyLineLower = svgEl('path', {d: linePath(dailyWeeks, dailyValues, yLower), fill:'none', stroke:'#1c3540', 'stroke-width':2.6, 'stroke-linejoin':'round', 'clip-path':'url(#clip-lower)'}, chart);


const dailyLineUpper = svgEl('path', {d: linePath(dailyWeeks, dailyValues, yUpper), fill:'none', stroke:'#1c3540', 'stroke-width':2.6, 'stroke-linejoin':'round', 'clip-path':'url(#clip-upper)'}, chart);



// stage bands
stageNames.forEach(function(n, i){
  const band = svgEl('rect', {x:xScale(stageStartWeeks[i]), y:850, width:xScale(stageEndWeeks[i])-xScale(stageStartWeeks[i]), height:258.3, fill:stageColors[i]}, chart);
  
  
});

// axes
const axes = svgEl('g', {stroke:'#333', 'stroke-width':1.2, fill:'none'}, chart);


const lowerAxis = svgEl('line', {x1:1126, x2:1126, y1:yLower(600000), y2:1108.9}, axes);


const upperAxis = svgEl('line', {x1:1126, x2:1126, y1:yUpper(50000000), y2:916}, axes);


const rightAxis = svgEl('line', {x1:1981.3, x2:1981.3, y1:yLog(1e9), y2:1108.9, 'stroke-width':1.5}, axes);


const xAxis = svgEl('line', {x1:1126, x2:1981.3, y1:1108.3, y2:1108.3}, axes);


const breakOne = svgEl('line', {x1:1120.7, y1:920, x2:1130.7, y2:911}, axes);


const breakTwo = svgEl('line', {x1:1120.7, y1:933, x2:1130.7, y2:924}, axes);



lowerTicks.forEach(function(v, i){
  const y = yLower(v);
  if (v < 600000) {
    const tick = svgEl('line', {x1:1118.5, x2:1126, y1:y, y2:y}, axes);
    
    
  }
  const lab = svgEl('text', {x:1116.5, y:y+5, 'font-size':14.4, 'text-anchor':'end', fill:'#111'}, chart);
  lab.textContent = lowerTickLabels[i];
  
  
});
upperTicks.forEach(function(v, i){
  const y = yUpper(v);
  const tick = svgEl('line', {x1:1118.5, x2:1126, y1:y, y2:y}, axes);
  
  
  const lab = svgEl('text', {x:1117, y:y+5, 'font-size':14.4, 'text-anchor':'end', fill:'#111'}, chart);
  
  
  const base = svgEl('tspan', {}, lab);
  base.textContent = upperTickLabels[i];
  const sup = svgEl('tspan', {dy:-5, 'font-size':10}, lab);
  sup.textContent = '7';
});
logTicks.forEach(function(p){
  const y = yLog(Math.pow(10, p));
  const tick = svgEl('line', {x1:1981.3, x2:1986.8, y1:y, y2:y}, axes);
  
  
  const lab = svgEl('text', {x:1991, y:y+5, 'font-size':14.6, fill:'#111'}, chart);
  
  
  const base = svgEl('tspan', {}, lab);
  base.textContent = '10';
  const sup = svgEl('tspan', {dy:-5, 'font-size':10}, lab);
  sup.textContent = String(p);
});
xTickLabels.forEach(function(label, i){
  const x = xScale(xTickWeeks[i]);
  const tick = svgEl('line', {x1:x, x2:x, y1:1108.3, y2:1116.5}, axes);
  
  
  const lab = svgEl('text', {transform:'translate(' + (x+6) + ' 1128) rotate(-45)', 'font-size':14.6, 'text-anchor':'end', fill:'#111'}, chart);
  lab.textContent = label;
  
  
});

// time point markers and pandemic-period line
timePointNames.forEach(function(n, i){
  const x = xScale(timePointWeeks[i]);
  const tri = svgEl('polygon', {points:(x-6)+',1208 '+(x+6)+',1208 '+x+',1194.5', fill:'#000'}, chart);
  
  
  const t = svgEl('line', {x1:x, x2:x, y1:1257.5, y2:1263.5, stroke:'#666', 'stroke-width':1}, chart);
  
  
});
const periodLine = svgEl('line', {x1:xScale(timePointWeeks[0]), x2:xScale(periodEndWeek), y1:1260.5, y2:1260.5, stroke:'#999', 'stroke-width':1.2}, chart);


const periodEnd = svgEl('line', {x1:xScale(periodEndWeek), x2:xScale(periodEndWeek), y1:1257.5, y2:1263.5, stroke:'#666', 'stroke-width':1}, chart);


</script>
</body>
</html>
